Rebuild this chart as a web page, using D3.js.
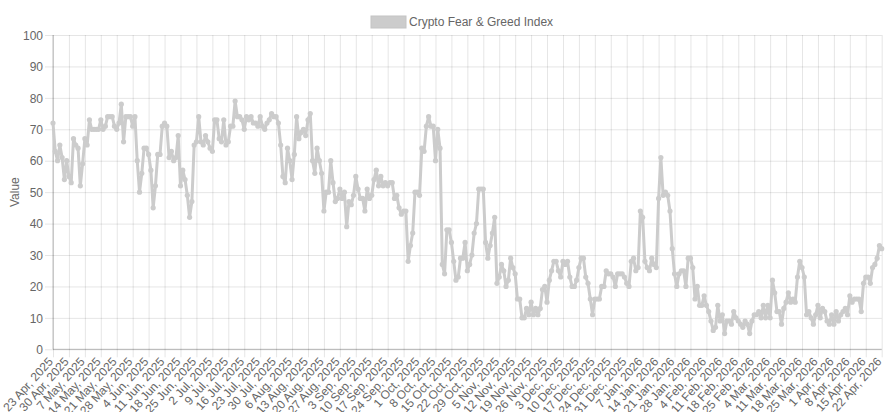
<!DOCTYPE html>
<html>
<head>
<meta charset="utf-8">
<script src="https://cdn.jsdelivr.net/npm/d3@7"></script>
<style>
  html, body { margin: 0; padding: 0; background: #fff; }
  svg { display: block; font-family: "Liberation Sans", Arial, Helvetica, sans-serif; }
</style>
</head>
<body>
<svg id="chart" width="896" height="412"></svg>
<script>
const seriesName = "Crypto Fear & Greed Index";
const yTitle = "Value";
const startDate = "2025-04-23";
const values = [
  72,63,60,65,61,54,60,55,53,67,65,64,52,59,67,65,73,70,70,70,
  70,73,70,71,74,74,74,71,70,72,78,66,74,74,74,71,74,60,50,56,
  64,64,62,57,45,52,62,62,71,72,71,61,63,60,61,68,52,57,54,49,
  42,47,65,66,74,66,65,68,66,64,63,73,73,67,66,73,65,66,71,71,
  79,74,74,73,70,74,73,74,72,72,71,74,71,70,72,73,75,74,74,72,
  65,55,53,64,60,54,62,74,67,69,70,68,73,75,60,56,64,60,56,44,
  50,50,60,53,47,48,51,48,50,39,47,46,49,55,51,48,48,44,51,48,
  49,54,57,52,55,52,53,52,53,53,48,49,45,43,44,44,28,33,37,50,
  50,49,64,63,71,74,71,71,60,70,64,27,24,38,38,34,28,22,23,29,
  29,34,25,27,30,37,40,51,51,51,34,29,33,37,42,21,23,27,25,20,
  22,29,26,24,16,16,10,10,13,11,15,11,13,11,13,19,20,15,22,25,
  28,28,25,23,28,27,28,23,20,20,22,26,29,29,23,21,16,11,16,16,
  16,20,20,25,24,24,23,20,24,24,24,23,21,20,28,29,25,26,44,42,
  28,26,25,29,27,26,48,61,49,50,49,44,32,24,20,24,25,25,20,29,
  29,26,16,20,14,14,17,14,12,9,6,7,14,9,11,5,9,9,8,12,
  10,9,8,7,9,8,5,9,11,11,12,10,14,10,14,10,22,18,12,12,
  8,13,15,18,15,16,15,23,28,26,23,11,12,10,8,11,14,10,13,12,
  9,8,11,8,12,9,11,12,13,11,17,15,16,16,16,12,21,23,23,21,
  26,27,29,33,32
];
const yTicks = [0,10,20,30,40,50,60,70,80,90,100];
const tickLabels = [
  "23 Apr, 2025","30 Apr, 2025","7 May, 2025","14 May, 2025","21 May, 2025","28 May, 2025",
  "4 Jun, 2025","11 Jun, 2025","18 Jun, 2025","25 Jun, 2025","2 Jul, 2025","9 Jul, 2025",
  "16 Jul, 2025","23 Jul, 2025","30 Jul, 2025","6 Aug, 2025","13 Aug, 2025","20 Aug, 2025",
  "27 Aug, 2025","3 Sep, 2025","10 Sep, 2025","17 Sep, 2025","24 Sep, 2025","1 Oct, 2025",
  "8 Oct, 2025","15 Oct, 2025","22 Oct, 2025","29 Oct, 2025","5 Nov, 2025","12 Nov, 2025",
  "19 Nov, 2025","26 Nov, 2025","3 Dec, 2025","10 Dec, 2025","17 Dec, 2025","24 Dec, 2025",
  "31 Dec, 2025","7 Jan, 2026","14 Jan, 2026","21 Jan, 2026","28 Jan, 2026","4 Feb, 2026",
  "11 Feb, 2026","18 Feb, 2026","25 Feb, 2026","4 Mar, 2026","11 Mar, 2026","18 Mar, 2026",
  "25 Mar, 2026","1 Apr, 2026","8 Apr, 2026","15 Apr, 2026","22 Apr, 2026"
];
const tickStep = 7;

const svg = d3.select("#chart");
const margin = { left: 53, right: 896 - 881.7, top: 35, bottom: 412 - 349.3 };
const W = 896, H = 412;

const x = d3.scaleLinear().domain([0, values.length - 1]).range([margin.left, W - margin.right]);
const y = d3.scaleLinear().domain([0, 100]).range([H - margin.bottom, margin.top]);

const gridColor = "rgba(0,0,0,0.1)";
const textColor = "#666";
const lineColor = "rgb(204,204,204)";

// vertical grid + x ticks
const tickIdx = tickLabels.map((d, i) => i * tickStep);
const xAxis = d3.axisBottom(x).tickValues(tickIdx)
  .tickSize(-(y(0) - y(100)))
  .tickFormat((d, i) => tickLabels[i]);
const gx = svg.append("g").attr("transform", `translate(0,${y(0)})`).call(xAxis);
gx.select(".domain").remove();
gx.selectAll(".tick line").attr("stroke", gridColor).attr("y2", -(y(0) - y(100))).attr("y1", 8);
gx.selectAll(".tick text")
  .attr("fill", textColor).attr("font-size", 12)
  .attr("text-anchor", "end")
  .attr("dy", "0.35em")
  .attr("transform", "translate(-3,10) rotate(-48)")
  .attr("x", 0).attr("y", 0);

// horizontal grid + y ticks
const yAxis = d3.axisLeft(y).tickValues(yTicks).tickSize(0).tickFormat(d3.format("d"));
const gy = svg.append("g").attr("transform", `translate(${x(0)},0)`).call(yAxis);
gy.select(".domain").remove();
gy.selectAll(".tick line").attr("stroke", gridColor).attr("x1", -8).attr("x2", x(values.length - 1) - x(0));
gy.selectAll(".tick text").attr("fill", textColor).attr("font-size", 12).attr("x", -10).attr("dy", "0.35em");

// axis lines (darker)
svg.append("line").attr("x1", x(0)).attr("x2", x(0)).attr("y1", y(100)).attr("y2", y(0))
  .attr("stroke", "rgba(0,0,0,0.25)");
svg.append("line").attr("x1", x(0)).attr("x2", x(values.length - 1)).attr("y1", y(0)).attr("y2", y(0))
  .attr("stroke", "rgba(0,0,0,0.25)");

// y title
svg.append("text").attr("transform", `translate(15,${(y(0) + y(100)) / 2}) rotate(-90)`)
  .attr("text-anchor", "middle").attr("dy", "0.35em")
  .attr("fill", textColor).attr("font-size", 12).text(yTitle);

// line
const line = d3.line().x((d, i) => x(i)).y(d => y(d));
svg.append("path").datum(values).attr("d", line)
  .attr("fill", "none").attr("stroke", lineColor).attr("stroke-width", 3)
  .attr("stroke-linejoin", "round");
svg.append("g").selectAll("circle").data(values).join("circle")
  .attr("cx", (d, i) => x(i)).attr("cy", d => y(d)).attr("r", 2.6)
  .attr("fill", lineColor);

// legend
const leg = svg.append("g");
const legText = leg.append("text").attr("x", 409).attr("y", 22).attr("dy", "0.35em")
  .attr("fill", textColor).attr("font-size", 12).text(seriesName);
leg.append("rect").attr("x", 371).attr("y", 16).attr("width", 35).attr("height", 12)
  .attr("fill", lineColor).attr("stroke", "rgb(196,196,196)");
</script>
</body>
</html>
